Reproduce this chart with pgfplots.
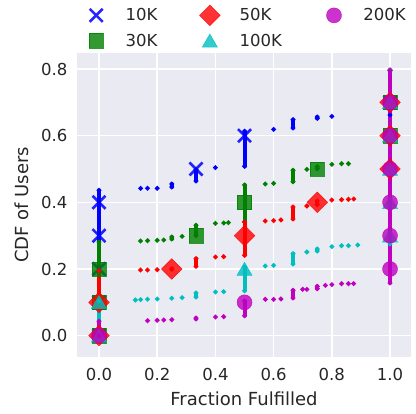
\documentclass[border=0pt]{standalone}
\usepackage{pgfplots}
\pgfplotsset{compat=1.18}
\usepackage{fontspec}
\setmainfont{DejaVu Sans}
\definecolor{mplb}{rgb}{0,0,1}
\definecolor{mplg}{rgb}{0,0.5,0}
\definecolor{mplr}{rgb}{1,0,0}
\definecolor{mplc}{rgb}{0,0.75,0.75}
\definecolor{mplm}{rgb}{0.75,0,0.75}
\definecolor{sbbg}{RGB}{234,234,242}
\definecolor{sbtxt}{RGB}{38,38,38}
\pgfplotsset{
  stk/.style={line width=4pt, line cap=round, mark=*, mark size=1.1pt, mark options={line width=2.2pt}, unbounded coords=jump, forget plot},
  bigx/.style={only marks, mark=x, mark size=9.2pt, mark options={line width=2.6pt, draw opacity=0.85}},
  bigsq/.style={only marks, mark=square*, mark size=7.2pt, mark options={line width=0.5pt, fill opacity=0.8, draw opacity=0.8}},
  bigdia/.style={only marks, mark=square*, mark size=7.3pt, mark options={rotate=45, line width=0.5pt, fill opacity=0.8, draw opacity=0.8}},
  bigtri/.style={only marks, mark=triangle*, mark size=8.7pt, mark options={yshift=-2pt, line width=0.5pt, fill opacity=0.8, draw opacity=0.8}},
  bigcirc/.style={only marks, mark=*, mark size=7.5pt, mark options={line width=0.5pt, fill opacity=0.8, draw opacity=0.8}},
}
\begin{document}
\begin{tikzpicture}
\begin{axis}[
  scale only axis,
  width=334pt, height=304pt,
  xmin=-0.0756, xmax=1.072,
  ymin=-0.064, ymax=0.848,
  axis background/.style={fill=sbbg},
  axis line style={draw=none},
  major tick length=0pt,
  grid=major,
  major grid style={white, line width=1.5pt},
  xtick={0,0.2,0.4,0.6,0.8,1.0},
  ytick={0,0.2,0.4,0.6,0.8},
  /pgf/number format/.cd, fixed, fixed zerofill, precision=1, assume math mode=true,
  /pgfplots/.cd,
  tick label style={font=\fontsize{16.5}{19.8}\selectfont, text=sbtxt},
  xticklabel style={yshift=-8pt},
  yticklabel style={xshift=-6pt},
  label style={font=\fontsize{18}{21.6}\selectfont, text=sbtxt},
  xlabel={Fraction Fulfilled},
  ylabel={CDF of Users},
  xlabel style={yshift=-4pt},
  ylabel style={yshift=6pt},
  legend columns=3,
  legend cell align=left,
  legend image code/.code={\path[draw=none,fill=none] (-10pt,-10pt) rectangle (10pt,10pt); \draw[#1] plot coordinates {(0pt,0pt)};},
  legend style={draw=none, fill=none, at={(0.018,1.165)}, anchor=north west,
    font=\fontsize{16.5}{19.8}\selectfont, text=sbtxt, row sep=5pt,
    /tikz/every odd column/.append style={column sep=17.5pt},
    /tikz/every even column/.append style={column sep=40pt}},
]
% ---------- 10K ----------
\addplot[mplb, stk] coordinates {
(0,0) (0,0.436) (nan,nan)
(0.142857,0.442) (nan,nan)
(0.166667,0.442) (nan,nan)
(0.2,0.442) (nan,nan)
(0.25,0.446) (0.25,0.455) (nan,nan)
(0.333333,0.464) (0.333333,0.498) (nan,nan)
(0.4,0.504) (nan,nan)
(0.5,0.508) (0.5,0.613) (nan,nan)
(0.6,0.619) (nan,nan)
(0.666667,0.623) (0.666667,0.648) (nan,nan)
(0.75,0.652) (0.75,0.656) (nan,nan)
(0.8,0.658) (nan,nan)
(1,0.662) (1,0.797)
};
\addplot[mplb, bigx, forget plot] coordinates {
(0,0) (0,0.1) (0,0.2) (0,0.3) (0,0.4) (0.333333,0.5) (0.5,0.6) (1,0.7)
};
% ---------- 30K ----------
\addplot[mplg, stk] coordinates {
(0,0) (0,0.281) (nan,nan)
(0.142857,0.284) (nan,nan)
(0.166667,0.285) (nan,nan)
(0.2,0.286) (nan,nan)
(0.222222,0.287) (nan,nan)
(0.25,0.29) (0.25,0.296) (nan,nan)
(0.285714,0.298) (nan,nan)
(0.333333,0.300) (0.333333,0.331) (nan,nan)
(0.4,0.337) (nan,nan)
(0.428571,0.338) (nan,nan)
(0.444444,0.339) (nan,nan)
(0.5,0.342) (0.5,0.452) (nan,nan)
(0.571429,0.455) (nan,nan)
(0.6,0.457) (nan,nan)
(0.666667,0.462) (0.666667,0.496) (nan,nan)
(0.714286,0.499) (nan,nan)
(0.75,0.501) (0.75,0.507) (nan,nan)
(0.8,0.514) (nan,nan)
(0.833333,0.516) (nan,nan)
(0.857143,0.516) (nan,nan)
(1,0.518) (1,0.796)
};
\addplot[mplg, bigsq, forget plot] coordinates {
(0,0) (0,0.1) (0,0.2) (0.333333,0.3) (0.5,0.4) (0.75,0.5) (1,0.6) (1,0.7)
};
% ---------- 50K ----------
\addplot[mplr, stk] coordinates {
(0,0) (0,0.195) (nan,nan)
(0.142857,0.197) (nan,nan)
(0.166667,0.197) (nan,nan)
(0.2,0.198) (nan,nan)
(0.25,0.199) (0.25,0.201) (nan,nan)
(0.333333,0.208) (0.333333,0.231) (nan,nan)
(0.4,0.236) (nan,nan)
(0.428571,0.237) (nan,nan)
(0.5,0.241) (0.5,0.341) (nan,nan)
(0.571429,0.344) (nan,nan)
(0.6,0.345) (nan,nan)
(0.625,0.347) (nan,nan)
(0.666667,0.350) (0.666667,0.386) (nan,nan)
(0.714286,0.389) (nan,nan)
(0.75,0.393) (0.75,0.404) (nan,nan)
(0.8,0.407) (nan,nan)
(0.833333,0.408) (nan,nan)
(0.857143,0.409) (nan,nan)
(0.875,0.410) (nan,nan)
(1,0.413) (1,0.796)
};
\addplot[mplr, bigdia, forget plot] coordinates {
(0,0) (0,0.1) (0.25,0.2) (0.5,0.3) (0.75,0.4) (1,0.5) (1,0.6) (1,0.7)
};
% ---------- 100K ----------
\addplot[mplc, stk] coordinates {
(0,0) (0,0.104) (nan,nan)
(0.125,0.107) (nan,nan)
(0.142857,0.108) (nan,nan)
(0.166667,0.109) (nan,nan)
(0.2,0.110) (nan,nan)
(0.25,0.112) (nan,nan)
(0.285714,0.114) (nan,nan)
(0.333333,0.116) (0.333333,0.128) (nan,nan)
(0.4,0.131) (nan,nan)
(0.428571,0.132) (nan,nan)
(0.5,0.135) (0.5,0.206) (nan,nan)
(0.571429,0.209) (nan,nan)
(0.6,0.211) (nan,nan)
(0.666667,0.215) (0.666667,0.246) (nan,nan)
(0.714286,0.251) (nan,nan)
(0.75,0.254) (0.75,0.260) (nan,nan)
(0.8,0.267) (nan,nan)
(0.833333,0.270) (nan,nan)
(0.857143,0.270) (nan,nan)
(0.888889,0.272) (nan,nan)
(1,0.275) (1,0.795)
};
\addplot[mplc, bigtri, forget plot] coordinates {
(0,0) (0,0.1) (0.5,0.2) (1,0.3) (1,0.4) (1,0.5) (1,0.6) (1,0.7)
};
% ---------- 200K ----------
\addplot[mplm, stk] coordinates {
(0,0) (0,0.043) (nan,nan)
(0.166667,0.045) (nan,nan)
(0.2,0.046) (nan,nan)
(0.222222,0.047) (nan,nan)
(0.25,0.048) (nan,nan)
(0.333333,0.050) (0.333333,0.053) (nan,nan)
(0.4,0.056) (nan,nan)
(0.428571,0.057) (nan,nan)
(0.5,0.060) (0.5,0.104) (nan,nan)
(0.571429,0.109) (nan,nan)
(0.6,0.109) (nan,nan)
(0.625,0.110) (nan,nan)
(0.666667,0.113) (0.666667,0.136) (nan,nan)
(0.7,0.139) (nan,nan)
(0.714286,0.139) (nan,nan)
(0.75,0.141) (0.75,0.148) (nan,nan)
(0.777778,0.151) (nan,nan)
(0.8,0.153) (nan,nan)
(0.833333,0.156) (nan,nan)
(0.857143,0.156) (nan,nan)
(0.875,0.156) (nan,nan)
(1,0.158) (1,0.795)
};
\addplot[mplm, bigcirc, forget plot] coordinates {
(0,0) (0.5,0.1) (1,0.2) (1,0.3) (1,0.4) (1,0.5) (1,0.6) (1,0.7)
};
% ---------- legend (column-major order as in reference) ----------
\addlegendimage{mplb, bigx}\addlegendentry{10K}
\addlegendimage{mplr, bigdia}\addlegendentry{50K}
\addlegendimage{mplm, bigcirc}\addlegendentry{200K}
\addlegendimage{mplg, bigsq}\addlegendentry{30K}
\addlegendimage{mplc, bigtri}\addlegendentry{100K}
\end{axis}
\path ([xshift=-77pt,yshift=-57pt]current axis.south west) rectangle ([xshift=5pt,yshift=53pt]current axis.north east);
\end{tikzpicture}
\end{document}
